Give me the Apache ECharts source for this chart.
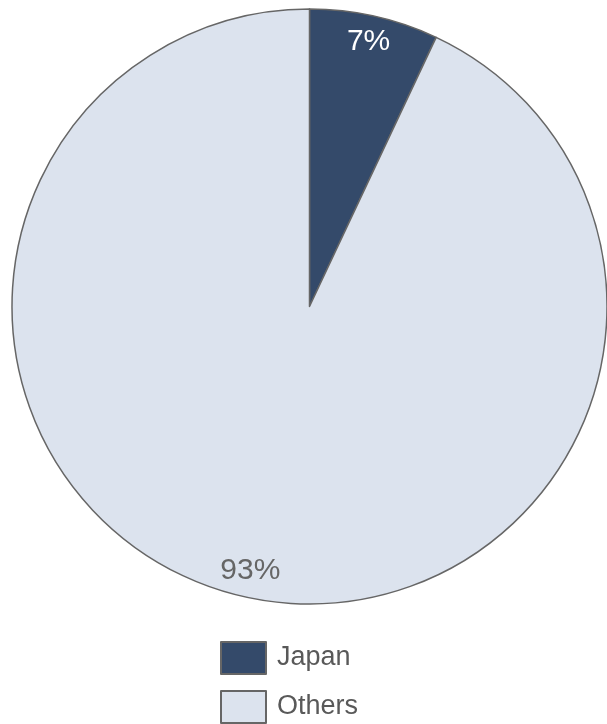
<!DOCTYPE html>
<html>
<head>
<meta charset="utf-8">
<script src="https://cdn.jsdelivr.net/npm/echarts@6/dist/echarts.min.js"></script>
<style>
  html, body { margin: 0; padding: 0; background: #ffffff; }
  #chart { width: 607px; height: 724px; }
</style>
</head>
<body>
<div id="chart"></div>
<script>
// Share of total: Japan vs. everyone else
const categories = ['Japan', 'Others'];
const shares = [7, 93];
const sliceColors = ['#344a6a', '#dce3ee'];
const labelColors = ['#ffffff', '#666666'];
const legendTops = [641, 690];

const pieData = categories.map((name, i) => ({
  name: name,
  value: shares[i],
  itemStyle: { color: sliceColors[i] }
}));

const labelData = categories.map((name, i) => ({
  name: name,
  value: shares[i],
  label: { color: labelColors[i] }
}));

const chart = echarts.init(document.getElementById('chart'), null, { renderer: 'canvas' });

const font = 'Liberation Sans, Arial, sans-serif';

// one legend row per category, stacked vertically under the pie
const legends = categories.map((name, i) => ({
  orient: 'vertical',
  left: 220,
  top: legendTops[i],
  padding: 0,
  data: [name],
  icon: 'rect',
  itemWidth: 45,
  itemHeight: 32,
  textStyle: {
    fontFamily: font,
    fontSize: 27,
    lineHeight: 30,
    color: '#595959',
    padding: [0, 0, 0, 6]
  },
  selectedMode: false
}));

chart.setOption({
  animation: false,
  backgroundColor: '#ffffff',
  legend: legends,
  series: [
    {
      type: 'pie',
      center: [309.5, 306.5],
      radius: [0, 297.5],
      startAngle: 90,
      clockwise: true,
      silent: true,
      label: { show: false },
      labelLine: { show: false },
      itemStyle: { borderColor: '#666666', borderWidth: 1.5 },
      data: pieData
    },
    {
      // transparent ring used only to place the percentage labels near the rim
      type: 'pie',
      center: [309.5, 306.5],
      radius: [240, 296],
      startAngle: 90,
      clockwise: true,
      silent: true,
      legendHoverLink: false,
      itemStyle: { color: 'rgba(0,0,0,0)', borderWidth: 0 },
      label: {
        show: true,
        position: 'inside',
        formatter: '{c}%',
        fontFamily: font,
        fontSize: 30
      },
      labelLine: { show: false },
      data: labelData
    }
  ]
});
</script>
</body>
</html>
